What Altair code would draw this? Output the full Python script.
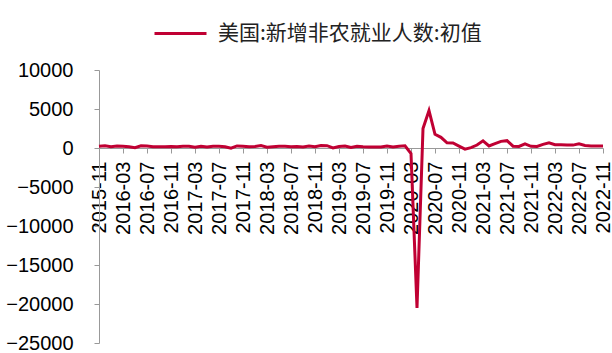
import altair as alt
import pandas as pd

months = list(pd.period_range("2015-11", "2022-11", freq="M").strftime("%Y-%m"))

values = [
    211, 292, 151, 242, 215, 160, 38, 287, 255, 151, 156, 161,
    178, 156, 227, 235, 98, 211, 138, 222, 209, 156, -33, 261,
    228, 148, 200, 313, 103, 164, 223, 213, 157, 201, 134, 250,
    155, 312, 304, 20, 196, 263, 75, 224, 164, 130, 136, 128,
    266, 145, 225, 273, -701, -20500, 2509, 4800, 1763, 1371, 661, 638,
    245, -140, 49, 379, 916, 266, 559, 850, 943, 235, 194, 531,
    210, 199, 467, 678, 431, 428, 390, 372, 528, 315, 263, 261,
    263,
]

tick_labels = [
    "2015-11", "2016-03", "2016-07", "2016-11", "2017-03", "2017-07",
    "2017-11", "2018-03", "2018-07", "2018-11", "2019-03", "2019-07",
    "2019-11", "2020-03", "2020-07", "2020-11", "2021-03", "2021-07",
    "2021-11", "2022-03", "2022-07", "2022-11",
]
y_ticks = [-25000, -20000, -15000, -10000, -5000, 0, 5000, 10000]
series_name = "美国:新增非农就业人数:初值"

df = pd.DataFrame({"month": months, "value": values, "series": series_name})

W, H = 504, 273
ymin, ymax = -25000, 10000
zero_offset = -H * (0 - ymin) / (ymax - ymin)

chart = alt.Chart(df).mark_line(strokeWidth=3).encode(
    x=alt.X(
        "month:O",
        sort=months,
        scale=alt.Scale(type="point", padding=0),
        axis=alt.Axis(
            values=tick_labels, labelAngle=-90, offset=zero_offset, title=None,
            domainColor="#999999", tickColor="#999999", tickSize=5,
            labelFont="Liberation Sans", labelFontSize=20, labelColor="#000000",
            labelPadding=8, grid=False, labelOverlap=False,
        ),
    ),
    y=alt.Y(
        "value:Q",
        scale=alt.Scale(domain=[ymin, ymax], nice=False, zero=False),
        axis=alt.Axis(
            values=y_ticks, format="d", title=None, grid=False,
            domainColor="#999999", tickColor="#999999", tickSize=5,
            labelFont="Liberation Sans", labelFontSize=20, labelColor="#000000",
            labelPadding=21,
        ),
    ),
    color=alt.Color(
        "series:N",
        scale=alt.Scale(range=["#C00033"]),
        legend=alt.Legend(
            orient="none", legendX=54, legendY=-64, title=None,
            symbolType="stroke", symbolSize=2704, symbolStrokeWidth=3,
            labelFont="Noto Sans CJK SC", labelFontSize=21, labelColor="#222222",
            labelLimit=500, labelOffset=10, padding=0,
        ),
    ),
).properties(
    width=W, height=H,
    autosize=alt.AutoSizeParams(type="none"),
    padding={"left": 99, "top": 70, "right": 9, "bottom": 10},
).configure_view(stroke=None)

chart.save("out.html", embed_options={"renderer": "svg", "actions": False})
